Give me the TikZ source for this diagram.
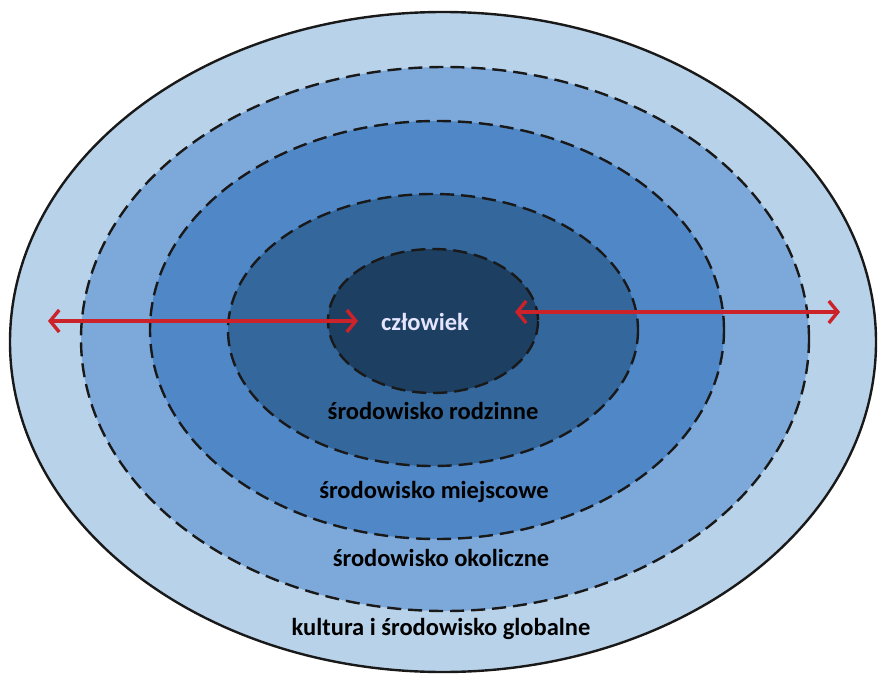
\documentclass[tikz,border=0pt]{standalone}
\usepackage{fontspec}
\setmainfont{Carlito}
\usetikzlibrary{arrows.meta}
\definecolor{ringA}{HTML}{B8D2EA}
\definecolor{ringB}{HTML}{7DA9DA}
\definecolor{ringC}{HTML}{4F87C7}
\definecolor{ringD}{HTML}{34679B}
\definecolor{ringE}{HTML}{1D3F62}
\definecolor{arrowred}{HTML}{CC2229}
\tikzset{
  ringline/.style={draw=black!90, line width=2.4pt, dash pattern=on 14pt off 7pt},
  lbl/.style={font=\fontsize{24.5}{28}\selectfont\bfseries, text=black, inner sep=0pt},
  redarrow/.style={draw=arrowred, line width=3.4pt, {Straight Barb[length=9pt,width=22pt,line width=3.4pt]}-{Straight Barb[length=9pt,width=22pt,line width=3.4pt]}}
}
\begin{document}
\begin{tikzpicture}[x=1pt,y=-1pt]
\useasboundingbox (0,0) rectangle (883,674);
\fill[white] (0,0) rectangle (883,674);
\draw[fill=ringA, draw=black!90, line width=2.4pt] (443,342) ellipse [x radius=433, y radius=330];
\fill[ringB] (445,339) ellipse [x radius=364, y radius=272];
\draw[ringline] (445,339) ellipse [x radius=364, y radius=272];
\fill[ringC] (437,330) ellipse [x radius=287, y radius=209];
\draw[ringline] (437,330) ellipse [x radius=287, y radius=209];
\fill[ringD] (433,330) ellipse [x radius=205, y radius=136];
\draw[ringline] (433,330) ellipse [x radius=205, y radius=136];
\fill[ringE] (433,321) ellipse [x radius=105, y radius=72];
\draw[ringline] (433,321) ellipse [x radius=105, y radius=72];
\node[lbl, text=white!90!blue] (czl) at (425,322) {człowiek};
\node[lbl] (rodz) at (433,411) {środowisko rodzinne};
\node[lbl] (miej) at (434,492) {środowisko miejscowe};
\node[lbl] (okol) at (441,558) {środowisko okoliczne};
\node[lbl] (glob) at (441,629) {kultura i środowisko globalne};
\coordinate (la) at (48,321);
\coordinate (lb) at (358,321);
\coordinate (ra) at (515,312);
\coordinate (rb) at (840,312);
\draw[redarrow] (la) -- (lb);
\draw[redarrow] (ra) -- (rb);
\end{tikzpicture}
\end{document}
